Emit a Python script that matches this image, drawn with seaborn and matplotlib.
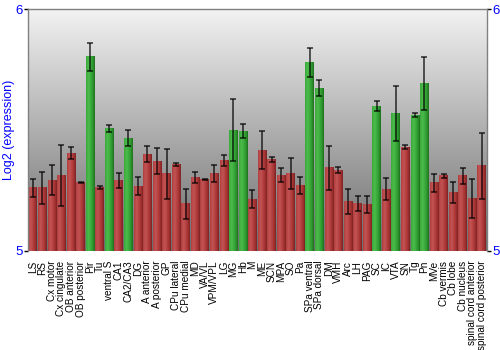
import numpy as np
import matplotlib
matplotlib.use("Agg")
import matplotlib.pyplot as plt
import pandas as pd
import seaborn as sns
from matplotlib.colors import LinearSegmentedColormap

# Brain regions and their log2 expression (mean and error half-width)
regions = [
    "LS", "RS", "Cx motor", "Cx cingulate", "OB anterior", "OB posterior",
    "Pir", "Tu", "ventral S", "CA1", "CA2/CA3", "DG", "A anterior",
    "A posterior", "GP", "CPu lateral", "CPu medial", "MD", "VA/VL",
    "VPM/VPL", "LG", "MG", "Hb", "M", "ME", "SCN", "MPA", "SO", "Pa",
    "SPa ventral", "SPa dorsal", "DM", "VMH", "Arc", "LH", "PAG", "SC", "IC",
    "VTA", "SN", "Tg", "Pn", "MVe", "Cb vermis", "Cb lobe", "Cb nucleus",
    "spinal cord anterior", "spinal cord posterior",
]
expression = [
    5.261, 5.261, 5.293, 5.312, 5.405, 5.285,
    5.804, 5.263, 5.508, 5.293, 5.467, 5.269, 5.401,
    5.372, 5.319, 5.359, 5.195, 5.304, 5.296,
    5.319, 5.374, 5.500, 5.496, 5.215, 5.417, 5.379, 5.314, 5.321, 5.271,
    5.780, 5.674, 5.344, 5.334, 5.206, 5.196, 5.193, 5.600, 5.256,
    5.569, 5.430, 5.562, 5.693, 5.282, 5.311, 5.243, 5.311,
    5.217, 5.352,
]
errors = [
    0.038, 0.067, 0.061, 0.126, 0.025, 0.002,
    0.059, 0.008, 0.014, 0.031, 0.034, 0.038, 0.032,
    0.055, 0.104, 0.007, 0.063, 0.023, 0.002,
    0.035, 0.023, 0.128, 0.028, 0.036, 0.079, 0.009, 0.028, 0.064, 0.036,
    0.061, 0.034, 0.090, 0.012, 0.052, 0.032, 0.034, 0.019, 0.046,
    0.112, 0.009, 0.008, 0.110, 0.037, 0.007, 0.043, 0.033,
    0.080, 0.135,
]
enriched = ["Pir", "ventral S", "CA2/CA3", "MG", "Hb", "SPa ventral",
            "SPa dorsal", "SC", "VTA", "Tg", "Pn"]

y_ticks = [5, 6]
y_min, y_max = 5, 6

sns.set_theme(style="white")
plt.rcParams['font.family'] = ['Liberation Sans', 'DejaVu Sans']

df = pd.DataFrame({
    "region": regions,
    "expr": expression,
    "group": ["enriched" if r in enriched else "other" for r in regions],
})

fig = plt.figure(figsize=(5, 3.5), dpi=100)
ax = fig.add_axes([0.056, 0.283, 0.917, 0.690])

sns.barplot(data=df, x="region", y="expr", hue="group",
            palette={"enriched": "#3aa83a", "other": "#b03c3c"},
            dodge=False, width=0.9, errorbar=None, legend=False, ax=ax,
            linewidth=0, zorder=2)

# Shaded fill for each bar: light stripe on the left, dark toward the right
red_cmap = LinearSegmentedColormap.from_list(
    "red_bar", [(0, "#b04040"), (0.3, "#c45454"), (0.75, "#a83434"), (1, "#7e2222")])
green_cmap = LinearSegmentedColormap.from_list(
    "green_bar", [(0, "#3aa83a"), (0.3, "#4cbc4c"), (0.75, "#2e9a2e"), (1, "#1e701e")])
grad = np.linspace(0, 1, 64).reshape(1, -1)
for p in list(ax.patches):
    h = p.get_height()
    if not np.isfinite(h) or h == 0:
        continue
    x0, w = p.get_x(), p.get_width()
    top = p.get_y() + h
    fc = p.get_facecolor()
    cmap = red_cmap if fc[0] > fc[1] else green_cmap
    ax.imshow(grad, extent=[x0, x0 + w, y_min, min(top, y_max)], cmap=cmap,
              aspect="auto", zorder=2.1, interpolation="bilinear")

ax.errorbar(np.arange(len(regions)), expression, yerr=errors, fmt="none",
            ecolor="black", elinewidth=1.1, capsize=2.2, capthick=1.1,
            alpha=0.8, zorder=3)

# Vertical gray gradient behind the bars (light at the top)
bg = LinearSegmentedColormap.from_list("bg", ["#f2f2f2", "#6c6c6c"])
ax.imshow(np.linspace(0, 1, 256).reshape(-1, 1),
          extent=[-0.5, len(regions) - 0.5, y_min, y_max],
          cmap=bg, aspect="auto", zorder=0, interpolation="bilinear")

ax.set_xlim(-0.5, len(regions) - 0.5)
ax.set_ylim(y_min, y_max)
ax.set_yticks(y_ticks)
ax.set_yticklabels([str(t) for t in y_ticks])
ax.set_xlabel("")
ax.set_ylabel("Log2 (expression)", color="#0000ff", fontsize=9)
ax.yaxis.set_label_coords(-0.029, 0.5)

ax.tick_params(axis="y", left=True, right=True, labelleft=True, labelright=True,
               colors="black", labelcolor="#0000ff", labelsize=9.5,
               length=3, width=1, pad=1)
ax.tick_params(axis="x", bottom=False, labelsize=7.2, labelrotation=90, pad=1)
for lab in ax.get_xticklabels():
    lab.set_color("black")

for side in ("top", "left", "right"):
    ax.spines[side].set_color("#808080")
    ax.spines[side].set_linewidth(1)
ax.spines["bottom"].set_visible(False)

fig.savefig("out.png", dpi=100)
